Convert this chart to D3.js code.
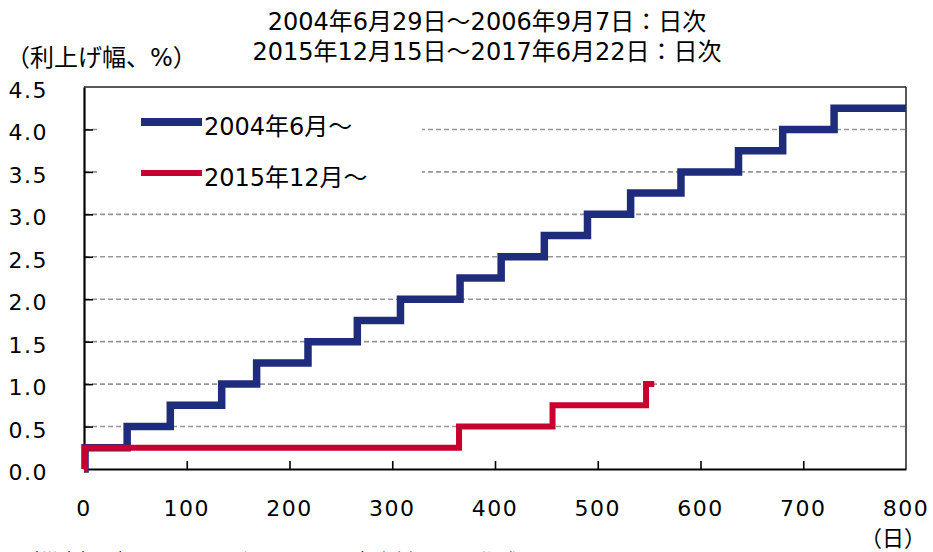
<!DOCTYPE html>
<html>
<head>
<meta charset="utf-8">
<script src="https://cdn.jsdelivr.net/npm/d3@7"></script>
<style>
  html, body { margin: 0; padding: 0; background: #fff; overflow: hidden; }
  svg { display: block; }
  text { font-family: "DejaVu Sans", "Noto Sans CJK JP", sans-serif; fill: #000; }
</style>
</head>
<body>
<svg id="chart"></svg>
<script>
// days since start of each hiking cycle, and cumulative rise (%)
const days2004 = [0, 1, 42, 84, 134, 168, 218, 266, 308, 366, 406, 448, 490, 532, 581, 637, 680, 730, 800];
const rise2004 = [0, 0.25, 0.5, 0.75, 1.0, 1.25, 1.5, 1.75, 2.0, 2.25, 2.5, 2.75, 3.0, 3.25, 3.5, 3.75, 4.0, 4.25, 4.25];
const days2015 = [0, 1, 365, 456, 547, 555];
const rise2015 = [0, 0.25, 0.5, 0.75, 1.0, 1.0];

const seriesNames = ['2004年6月～', '2015年12月～'];
const seriesColors = ['#1f2c7c', '#c8002f'];
const titleLines = ['2004年6月29日～2006年9月7日：日次', '2015年12月15日～2017年6月22日：日次'];
const xTicks = [0, 100, 200, 300, 400, 500, 600, 700, 800];
const yTicks = [0, 0.5, 1.0, 1.5, 2.0, 2.5, 3.0, 3.5, 4.0, 4.5];

const width = 933, height = 552;
const margin = { top: 87, right: 27, bottom: 83, left: 84 };
const innerW = width - margin.left - margin.right;
const innerH = height - margin.top - margin.bottom;

const svg = d3.select('#chart')
    .attr('width', width)
    .attr('height', height);

const x = d3.scaleLinear().domain([0, 800]).range([margin.left, margin.left + innerW]);
const y = d3.scaleLinear().domain([0, 4.5]).range([margin.top + innerH, margin.top]);

// titles
svg.selectAll('.title')
    .data(titleLines)
    .join('text')
    .attr('class', 'title')
    .attr('x', 487)
    .attr('y', (d, i) => 30 + i * 30)
    .attr('text-anchor', 'middle')
    .style('font-size', '24px')
    .text(d => d);

svg.append('text')
    .attr('x', 6)
    .attr('y', 66)
    .style('font-size', '24px')
    .text('（利上げ幅、%）');

// dashed gridlines
svg.append('g')
    .selectAll('line')
    .data(yTicks.filter(d => d > 0 && d < 4.5))
    .join('line')
    .attr('x1', x(0))
    .attr('x2', x(800))
    .attr('y1', d => y(d))
    .attr('y2', d => y(d))
    .attr('stroke', '#969696')
    .attr('stroke-width', 1.6)
    .attr('stroke-dasharray', '5,3');

// legend background hides the gridlines behind it
svg.append('rect')
    .attr('x', 99)
    .attr('y', 96)
    .attr('width', 323)
    .attr('height', 100)
    .attr('fill', '#fff');

// frame: top and right thin, left and bottom axes heavier
svg.append('line')
    .attr('x1', x(0)).attr('x2', x(800))
    .attr('y1', y(4.5)).attr('y2', y(4.5))
    .attr('stroke', '#222').attr('stroke-width', 1.5);
svg.append('line')
    .attr('x1', x(800)).attr('x2', x(800))
    .attr('y1', y(4.5)).attr('y2', y(0))
    .attr('stroke', '#222').attr('stroke-width', 1.5);

const xAxis = svg.append('g')
    .attr('transform', `translate(0,${y(0)})`)
    .call(d3.axisBottom(x).tickValues(xTicks).tickSize(0).tickPadding(0).tickFormat(''));
xAxis.select('.domain').attr('stroke', '#000').attr('stroke-width', 2.2);
xAxis.selectAll('.tick line')
    .attr('y2', d => (d > 0 && d < 800) ? -8 : 0)
    .attr('stroke', '#000').attr('stroke-width', 1.6);

const yAxis = svg.append('g')
    .attr('transform', `translate(${x(0)},0)`)
    .call(d3.axisLeft(y).tickValues(yTicks).tickSize(0).tickPadding(0).tickFormat(''));
yAxis.select('.domain').attr('stroke', '#000').attr('stroke-width', 2.2);
yAxis.selectAll('.tick line')
    .attr('x2', d => (d > 0 && d < 4.5) ? 9 : 0)
    .attr('stroke', '#000').attr('stroke-width', 1.6);

// tick labels
svg.append('g')
    .selectAll('text')
    .data(xTicks)
    .join('text')
    .attr('x', d => x(d))
    .attr('y', y(0) + 47)
    .attr('text-anchor', 'middle')
    .style('font-size', '22px')
    .style('letter-spacing', '1.5px')
    .text(d => d);

svg.append('g')
    .selectAll('text')
    .data(yTicks)
    .join('text')
    .attr('x', 48)
    .attr('y', d => y(d) + 11)
    .attr('text-anchor', 'end')
    .style('font-size', '22px')
    .style('letter-spacing', '1.5px')
    .text(d => d.toFixed(1));

svg.append('text')
    .attr('x', 926)
    .attr('y', 546)
    .attr('text-anchor', 'end')
    .style('font-size', '22px')
    .text('（日）');

// source note, almost entirely below the bottom edge as in the original
svg.append('text')
    .attr('x', 18)
    .attr('y', 569)
    .style('font-size', '21px')
    .text('（備考）ブルームバーグ、ＦＲＢ公表資料により作成。');

// step lines
const line = d3.line()
    .x(d => x(d[0]))
    .y(d => y(d[1]))
    .curve(d3.curveStepAfter);

svg.append('path')
    .datum(d3.zip(days2004, rise2004))
    .attr('d', line)
    .attr('fill', 'none')
    .attr('stroke', seriesColors[0])
    .attr('stroke-width', 7.5);

svg.append('path')
    .datum(d3.zip(days2015, rise2015))
    .attr('d', line)
    .attr('fill', 'none')
    .attr('stroke', seriesColors[1])
    .attr('stroke-width', 6);

// legend
const legend = svg.append('g')
    .selectAll('g')
    .data(seriesNames)
    .join('g')
    .attr('transform', (d, i) => `translate(141,${122 + i * 51})`);

legend.append('line')
    .attr('x1', 0)
    .attr('x2', 61)
    .attr('stroke', (d, i) => seriesColors[i])
    .attr('stroke-width', (d, i) => i === 0 ? 8 : 6);

legend.append('text')
    .attr('x', 63)
    .attr('y', 13)
    .style('font-size', '24px')
    .text(d => d);
</script>
</body>
</html>
